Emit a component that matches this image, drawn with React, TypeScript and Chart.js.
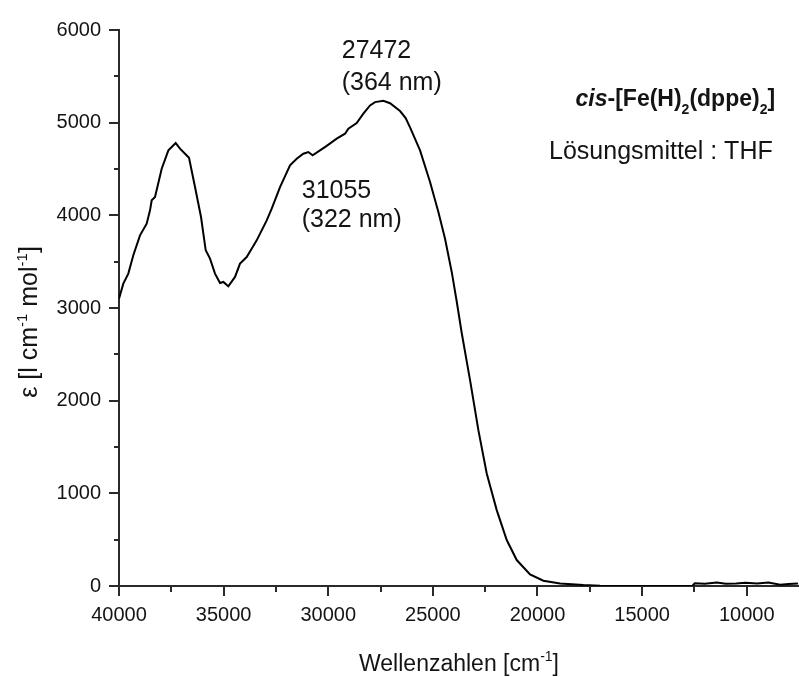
import React, { useEffect, useRef } from "react";
import { Chart, registerables } from "chart.js";

Chart.register(...registerables);

// Wavenumber (cm^-1) and molar absorptivity values
const wavenumbers = [
  40000, 39794, 39555, 39316, 38996, 38677, 38518, 38437, 38279, 37959,
  37640, 37481, 37290, 37084, 36845, 36654, 36367, 36080, 35856, 35650,
  35411, 35172, 35013, 34775, 34455, 34216, 33897, 33660, 33419, 32940,
  32701, 32304, 31826, 31507, 31190, 30951, 30745, 30392, 30073, 29596,
  29197, 29039, 28640, 28321, 28002, 27763, 27364, 27046, 26568, 26300,
  26090, 25612, 25134, 24736, 24417, 24098, 23859, 23620, 23222, 22824,
  22425, 21947, 21469, 20991, 20354, 19717, 18920, 17805, 17008, 15000,
  12600, 12480, 12000, 11430, 11000, 10500, 10080, 9500, 8960, 8400,
  8000, 7550,
];
const epsilon = [
  3100, 3263, 3371, 3569, 3784, 3910, 4054, 4162, 4197, 4503,
  4701, 4737, 4780, 4719, 4665, 4622, 4305, 3982, 3623, 3533,
  3371, 3270, 3281, 3234, 3335, 3479, 3550, 3640, 3730, 3946,
  4072, 4305, 4539, 4611, 4665, 4683, 4647, 4701, 4750, 4827,
  4881, 4935, 4996, 5097, 5186, 5222, 5236, 5210, 5125, 5050,
  4950, 4700, 4359, 4035, 3748, 3389, 3070, 2730, 2221, 1682,
  1215, 819, 496, 280, 126, 57, 27, 11, 4, 1,
  0, 30, 25, 38, 25, 28, 36, 26, 38, 14,
  22, 28,
];

const xMajorTicks = [10000, 15000, 20000, 25000, 30000, 35000, 40000];
const xMinorTicks = [12500, 17500, 22500, 27500, 32500, 37500];
const yMajorTicks = [0, 1000, 2000, 3000, 4000, 5000, 6000];
const yMinorTicks = [500, 1500, 2500, 3500, 4500, 5500];

// Peak annotations anchored in data coordinates (left edge, baseline)
const peakLabelText = ["27472", "(364 nm)", "31055", "(322 nm)"];
const peakLabelX = [29355, 29355, 31267, 31267];
const peakLabelY = [5703, 5348, 4183, 3871];

const FONT = "'Liberation Sans', Arial, Helvetica, sans-serif";
const TEXT_COLOR = "#141414";
const AXIS_COLOR = "#2a2a2a";

type Seg = { t: string; k?: "sup" | "sub"; italic?: boolean };

function segFont(seg: Seg, size: number, bold: boolean) {
  const s = seg.k ? Math.round(size * 0.6) : size;
  return `${seg.italic ? "italic " : ""}${bold ? "bold " : ""}${s}px ${FONT}`;
}

function drawRich(
  ctx: CanvasRenderingContext2D,
  segs: Seg[],
  x: number,
  y: number,
  align: "left" | "right" | "center",
  size: number,
  bold = false
) {
  ctx.save();
  ctx.textBaseline = "alphabetic";
  ctx.textAlign = "left";
  let total = 0;
  const widths = segs.map((s) => {
    ctx.font = segFont(s, size, bold);
    const w = ctx.measureText(s.t).width;
    total += w;
    return w;
  });
  let cx = align === "left" ? x : align === "right" ? x - total : x - total / 2;
  segs.forEach((s, i) => {
    ctx.font = segFont(s, size, bold);
    const dy = s.k === "sup" ? -size * 0.42 : s.k === "sub" ? size * 0.32 : 0;
    ctx.fillText(s.t, cx, y + dy);
    cx += widths[i];
  });
  ctx.restore();
}

const decorPlugin = {
  id: "decor",
  afterDraw(chart: any) {
    const { ctx, scales } = chart;
    const xs = scales.x;
    const ys = scales.y;
    const area = chart.chartArea;
    ctx.save();
    ctx.strokeStyle = AXIS_COLOR;
    ctx.lineWidth = 2;
    const tick = (x1: number, y1: number, x2: number, y2: number) => {
      ctx.beginPath();
      ctx.moveTo(x1, y1);
      ctx.lineTo(x2, y2);
      ctx.stroke();
    };
    xMajorTicks.forEach((v) => {
      const px = Math.round(xs.getPixelForValue(v));
      tick(px, area.bottom, px, area.bottom + 10);
    });
    xMinorTicks.forEach((v) => {
      const px = Math.round(xs.getPixelForValue(v));
      tick(px, area.bottom, px, area.bottom + 6);
    });
    yMajorTicks.forEach((v) => {
      const py = Math.round(ys.getPixelForValue(v));
      tick(area.left, py, area.left - 10, py);
    });
    yMinorTicks.forEach((v) => {
      const py = Math.round(ys.getPixelForValue(v));
      tick(area.left, py, area.left - 5, py);
    });
    ctx.restore();

    ctx.save();
    ctx.fillStyle = TEXT_COLOR;
    peakLabelText.forEach((t, i) => {
      drawRich(
        ctx,
        [{ t }],
        xs.getPixelForValue(peakLabelX[i]),
        ys.getPixelForValue(peakLabelY[i]),
        "left",
        25
      );
    });
    drawRich(
      ctx,
      [
        { t: "cis", italic: true },
        { t: "-[Fe(H)" },
        { t: "2", k: "sub" },
        { t: "(dppe)" },
        { t: "2", k: "sub" },
        { t: "]" },
      ],
      xs.getPixelForValue(8642),
      ys.getPixelForValue(5175),
      "right",
      23,
      true
    );
    drawRich(
      ctx,
      [{ t: "Lösungsmittel : THF" }],
      xs.getPixelForValue(8756),
      ys.getPixelForValue(4611),
      "right",
      25
    );
    drawRich(
      ctx,
      [{ t: "Wellenzahlen [cm" }, { t: "-1", k: "sup" }, { t: "]" }],
      (area.left + area.right) / 2,
      area.bottom + 85,
      "center",
      23
    );
    ctx.translate(area.left - 82, 322);
    ctx.rotate(-Math.PI / 2);
    drawRich(
      ctx,
      [
        { t: "ε [l cm" },
        { t: "-1", k: "sup" },
        { t: " mol" },
        { t: "-1", k: "sup" },
        { t: "]" },
      ],
      0,
      0,
      "center",
      25
    );
    ctx.restore();
  },
};

export default function App() {
  const canvasRef = useRef<HTMLCanvasElement | null>(null);

  useEffect(() => {
    if (!canvasRef.current) return;
    const points = wavenumbers.map((w, i) => ({ x: w, y: epsilon[i] }));
    const chart = new Chart(canvasRef.current, {
      type: "line",
      data: {
        datasets: [
          {
            data: points,
            borderColor: "#000000",
            borderWidth: 2,
            pointRadius: 0,
            tension: 0,
            fill: false,
          },
        ],
      },
      options: {
        animation: false,
        responsive: true,
        maintainAspectRatio: false,
        layout: { padding: { top: 29, right: 0, left: 0, bottom: 0 } },
        plugins: {
          legend: { display: false },
          title: { display: false },
          tooltip: { enabled: false },
        },
        scales: {
          x: {
            type: "linear",
            reverse: true,
            min: 7500,
            max: 40000,
            grid: { display: false, drawTicks: false },
            border: { display: true, color: AXIS_COLOR, width: 2 },
            ticks: {
              padding: 17,
              color: TEXT_COLOR,
              font: { family: FONT, size: 20 },
              maxRotation: 0,
              autoSkip: false,
              callback: (v: any) => String(v),
            },
            afterBuildTicks: (s: any) => {
              s.ticks = xMajorTicks.map((v) => ({ value: v }));
            },
            afterFit: (s: any) => {
              s.height = 91;
              s.paddingLeft = 0;
              s.paddingRight = 0;
            },
          },
          y: {
            type: "linear",
            min: 0,
            max: 6000,
            grid: { display: false, drawTicks: false },
            border: { display: true, color: AXIS_COLOR, width: 2 },
            ticks: {
              padding: 18,
              color: TEXT_COLOR,
              font: { family: FONT, size: 20 },
              callback: (v: any) => String(v),
            },
            afterBuildTicks: (s: any) => {
              s.ticks = yMajorTicks.map((v) => ({ value: v }));
            },
            afterFit: (s: any) => {
              s.width = 119;
            },
          },
        },
      },
      plugins: [decorPlugin],
    });
    return () => chart.destroy();
  }, []);

  return (
    <div
      style={{
        position: "absolute",
        left: 0,
        top: 0,
        width: 799,
        height: 677,
        background: "#ffffff",
      }}
    >
      <canvas ref={canvasRef} />
    </div>
  );
}
